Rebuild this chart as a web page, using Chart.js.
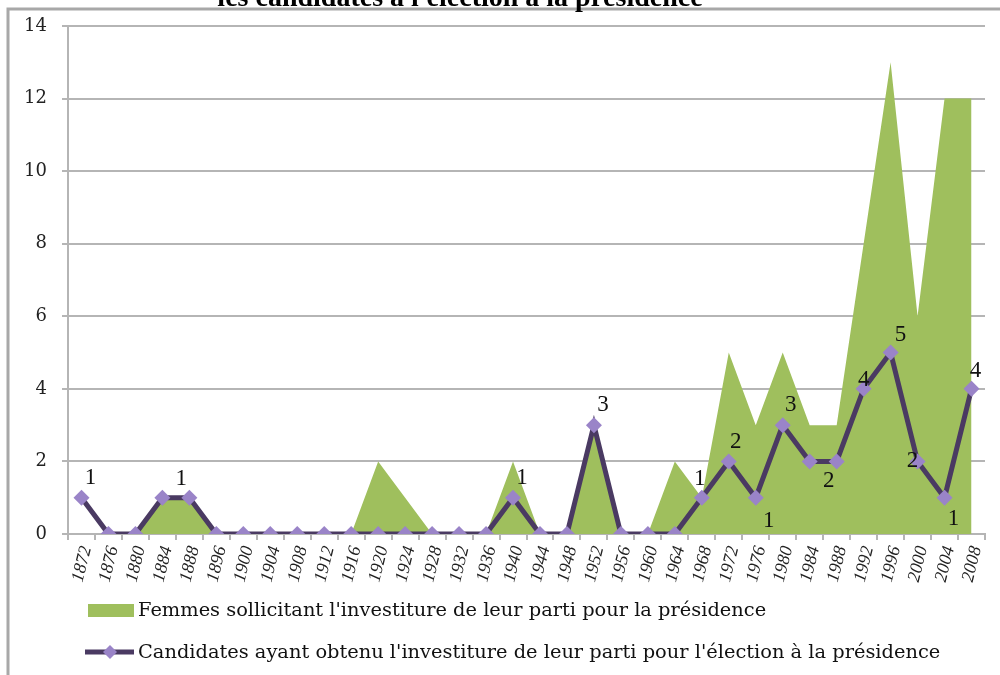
<!DOCTYPE html>
<html>
<head>
<meta charset="utf-8">
<script src="https://cdn.jsdelivr.net/npm/chart.js@4.4.0/dist/chart.umd.min.js"></script>
<style>
  html, body { margin: 0; padding: 0; background: #ffffff; }
  #wrap { width: 1000px; height: 675px; position: relative; }
</style>
</head>
<body>
<div id="wrap"><canvas id="c" width="1000" height="675"></canvas></div>
<script>
// ---- data ----
const years = ['1872','1876','1880','1884','1888','1896','1900','1904','1908','1912','1916','1920','1924','1928','1932','1936','1940','1944','1948','1952','1956','1960','1964','1968','1972','1976','1980','1984','1988','1992','1996','2000','2004','2008'];
const femmesSollicitant = [0,0,0,1,1,0,0,0,0,0,0,2,1,0,0,0,2,0,0,3,0,0,2,1,5,3,5,3,3,8,13,6,12,12];
const candidatesInvesties = [1,0,0,1,1,0,0,0,0,0,0,0,0,0,0,0,1,0,0,3,0,0,0,1,2,1,3,2,2,4,5,2,1,4];
const yTicks = [0,2,4,6,8,10,12,14];
const titleText = "les candidates à l'élection à la présidence";
const labelArea = "Femmes sollicitant l'investiture de leur parti pour la présidence";
const labelLine = "Candidates ayant obtenu l'investiture de leur parti pour l'élection à la présidence";
// which data labels are shown, and where (style only)
const labelPlacement = {
  '1872':[9,-20], '1888':[-8,-19], '1940':[9,-20], '1952':[9,-20], '1968':[-2,-19],
  '1972':[7,-19], '1976':[13,23], '1980':[8,-20], '1988':[-8,20], '1992':[0,-9],
  '1996':[10,-18], '2000':[-5,0], '2004':[9,21], '2008':[4,-18]
};

const GREEN = '#9FBF5D';
const LINE = '#4A3A62';
const MARK = '#9A84C8';
const GRID = '#B5B5B5';

const framePlugin = {
  id: 'frame',
  beforeDraw(chart) {
    const ctx = chart.ctx;
    ctx.save();
    ctx.fillStyle = '#ffffff';
    ctx.fillRect(0, 0, chart.width, chart.height);
    ctx.strokeStyle = '#A8A8A8';
    ctx.lineWidth = 3;
    ctx.beginPath();
    ctx.moveTo(8, 700);
    ctx.lineTo(8, 9);
    ctx.lineTo(1010, 9);
    ctx.stroke();
    // title (clipped at top of image)
    ctx.fillStyle = '#000000';
    ctx.font = 'bold 28px "Liberation Serif"';
    ctx.textAlign = 'center';
    ctx.textBaseline = 'alphabetic';
    ctx.fillText(titleText, 460, 6);
    ctx.restore();
  }
};

const labelsPlugin = {
  id: 'pointLabels',
  afterDatasetsDraw(chart) {
    const ctx = chart.ctx;
    const idx = chart.data.datasets.findIndex(d => d.type === 'line' && !d.fill);
    const meta = chart.getDatasetMeta(idx);
    ctx.save();
    ctx.fillStyle = '#111111';
    ctx.font = '23px "Liberation Serif"';
    ctx.textAlign = 'center';
    ctx.textBaseline = 'middle';
    meta.data.forEach((pt, i) => {
      const place = labelPlacement[years[i]];
      if (!place) return;
      ctx.fillText(String(candidatesInvesties[i]), pt.x + place[0], pt.y + place[1]);
    });
    ctx.restore();
  }
};

const legendPlugin = {
  id: 'customLegend',
  afterDraw(chart) {
    const ctx = chart.ctx;
    ctx.save();
    ctx.fillStyle = GREEN;
    ctx.fillRect(88, 604, 46, 13);
    ctx.strokeStyle = LINE;
    ctx.lineWidth = 5;
    ctx.beginPath();
    ctx.moveTo(85, 652); ctx.lineTo(134, 652);
    ctx.stroke();
    ctx.fillStyle = MARK;
    ctx.beginPath();
    ctx.moveTo(110, 645); ctx.lineTo(117, 652); ctx.lineTo(110, 659); ctx.lineTo(103, 652);
    ctx.closePath(); ctx.fill();
    ctx.fillStyle = '#111111';
    ctx.font = '19.4px "DejaVu Serif"';
    ctx.textAlign = 'left';
    ctx.textBaseline = 'middle';
    ctx.fillText(labelArea, 138, 611);
    ctx.fillText(labelLine, 138, 653);
    ctx.restore();
  }
};

new Chart(document.getElementById('c'), {
  data: {
    labels: years,
    datasets: [
      {
        type: 'line',
        label: labelLine,
        data: candidatesInvesties,
        borderColor: LINE,
        borderWidth: 5,
        pointStyle: 'rectRot',
        pointRadius: 8,
        pointBackgroundColor: MARK,
        pointBorderColor: MARK,
        pointBorderWidth: 0,
        fill: false,
        tension: 0,
        order: 0
      },
      {
        type: 'line',
        label: labelArea,
        data: femmesSollicitant,
        borderWidth: 0,
        borderColor: GREEN,
        backgroundColor: GREEN,
        pointRadius: 0,
        fill: 'origin',
        tension: 0,
        order: 1
      }
    ]
  },
  options: {
    responsive: false,
    animation: false,
    devicePixelRatio: 1,
    layout: { padding: { left: 0, right: 15, top: 26, bottom: 0 } },
    plugins: {
      legend: { display: false },
      title: { display: false },
      tooltip: { enabled: false }
    },
    scales: {
      x: {
        type: 'category',
        offset: true,
        grid: { offset: true, drawOnChartArea: false, drawTicks: true, tickLength: 6, color: GRID, lineWidth: 2 },
        border: { color: GRID, width: 2 },
        ticks: {
          autoSkip: false, minRotation: 76, maxRotation: 76, labelOffset: 5, padding: 4,
          color: '#222222', font: { family: 'Liberation Serif', size: 18, style: 'italic' }
        },
        afterFit(scale) { scale.height = 141; }
      },
      y: {
        min: 0, max: 14,
        afterBuildTicks(scale) { scale.ticks = yTicks.map(v => ({ value: v })); },
        grid: { color: GRID, lineWidth: 2, tickLength: 6 },
        border: { color: GRID, width: 2 },
        ticks: { padding: 15, color: '#222222', font: { family: 'DejaVu Serif', size: 18 } },
        afterFit(scale) { scale.width = 68; }
      }
    }
  },
  plugins: [framePlugin, labelsPlugin, legendPlugin]
});
</script>
</body>
</html>
